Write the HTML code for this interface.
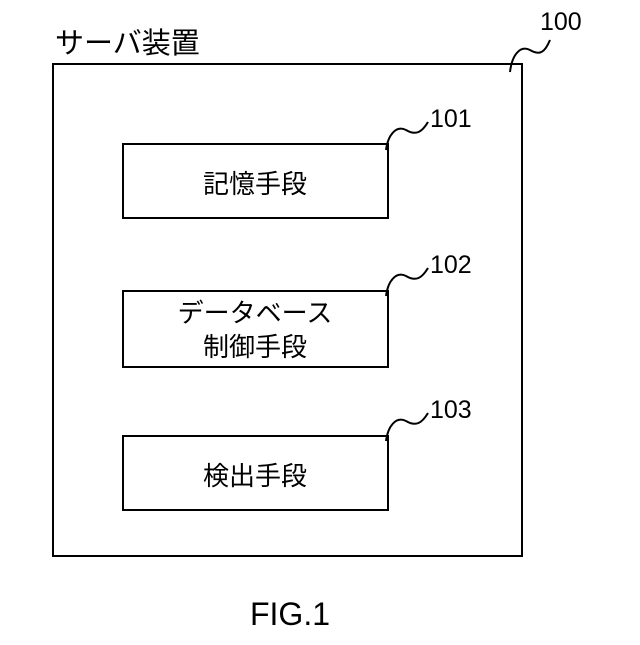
<!DOCTYPE html>
<html><head><meta charset="utf-8"><style>
body{margin:0;background:#fff;}
svg text{font-family:"Liberation Sans","Noto Sans CJK JP",sans-serif;fill:#000;}
</style></head><body>
<svg width="640" height="640" viewBox="0 0 640 640" xmlns="http://www.w3.org/2000/svg">
<g fill="none" stroke="#000" stroke-width="2">
<rect x="53" y="64" width="469" height="492"/>
<rect x="123" y="144" width="265" height="74"/>
<rect x="123" y="291" width="265" height="76"/>
<rect x="123" y="436" width="265" height="74"/>
<path d="M510 72 C512 55,520 45,530 50 C540 56,545 52,550 40"/>
<path d="M386 150 C388 135,396 125,406 130 C416 136,422 132,428 122"/>
<path d="M386 296 C388 281,396 271,406 276 C416 282,422 278,428 268"/>
<path d="M386 441 C388 426,396 416,406 421 C416 427,422 423,428 413"/>
</g>
<text x="55" y="53" font-size="29">サーバ装置</text>
<text x="540" y="30" font-size="25">100</text>
<text x="430" y="127" font-size="25">101</text>
<text x="430" y="273" font-size="25">102</text>
<text x="430" y="418" font-size="25">103</text>
<text x="255" y="193" font-size="26" text-anchor="middle">記憶手段</text>
<text x="255" y="322" font-size="26" text-anchor="middle">データベース</text>
<text x="255" y="356" font-size="26" text-anchor="middle">制御手段</text>
<text x="255" y="485" font-size="26" text-anchor="middle">検出手段</text>
<text x="290" y="625" font-size="32" text-anchor="middle">FIG.1</text>
</svg>
</body></html>
